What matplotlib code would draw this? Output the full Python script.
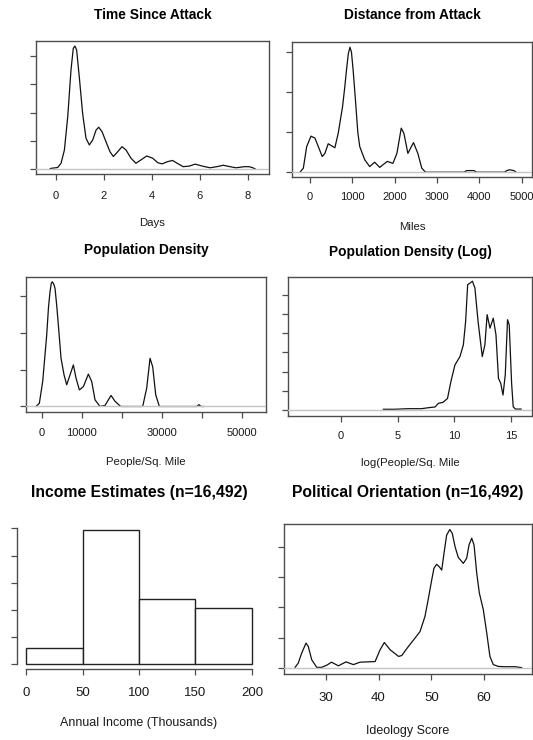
import matplotlib

matplotlib.use("Agg")
import matplotlib.pyplot as plt
import numpy as np

plt.rcParams["font.family"] = ["Liberation Sans", "DejaVu Sans"]

W, H = 533, 740

# densities are in units of one y tick (ticks are unlabelled in the original)
time_days = [-0.25, -0.21, 0.07, 0.21, 0.35, 0.49, 0.625, 0.72, 0.79, 0.86, 0.97, 1.11, 1.25,
             1.39, 1.53, 1.67, 1.78, 1.92, 2.08, 2.25, 2.39, 2.57, 2.75, 2.92, 3.125, 3.33,
             3.54, 3.78, 4.03, 4.24, 4.42, 4.65, 4.86, 5.05, 5.3, 5.55, 5.8, 6.1, 6.42, 6.7,
             6.97, 7.25, 7.5, 7.85, 8.05, 8.2, 8.3]
time_dens = [0.0, 0.02, 0.05, 0.2, 0.67, 1.86, 3.51, 4.28, 4.36, 4.22, 3.27, 1.97, 1.09,
             0.85, 1.03, 1.38, 1.48, 1.32, 0.97, 0.61, 0.44, 0.61, 0.79, 0.67, 0.38, 0.2,
             0.32, 0.46, 0.38, 0.22, 0.18, 0.26, 0.3, 0.2, 0.08, 0.1, 0.17, 0.1, 0.04, 0.08,
             0.13, 0.08, 0.04, 0.08, 0.08, 0.04, 0.0]

dist_miles = [-235, -157, -78, 24, 118, 196, 290, 353, 431, 510, 588, 667, 769, 820, 863, 905,
              945, 980, 1020, 1075, 1130, 1176, 1294, 1412, 1529, 1647, 1827, 1961, 2055, 2157,
              2220, 2314, 2447, 2549, 2643, 2729, 3650, 3700, 3880, 3930, 4600, 4650, 4720,
              4820, 4870]
dist_dens = [0.0, 0.1, 0.64, 0.9, 0.85, 0.64, 0.39, 0.47, 0.71, 0.66, 0.61, 0.97, 1.63, 2.1,
             2.55, 2.95, 3.12, 3.0, 2.55, 1.8, 1.0, 0.64, 0.31, 0.14, 0.25, 0.12, 0.27, 0.22,
             0.47, 1.1, 0.97, 0.47, 0.74, 0.47, 0.1, 0.0, 0.0, 0.04, 0.04, 0.0, 0.0, 0.04,
             0.06, 0.04, 0.0]

pop_x = [-1417, -583, 250, 1250, 1700, 2083, 2400, 2667, 3000, 3333, 3750, 4167, 4833, 5583,
         6250, 7083, 7917, 8583, 9417, 10417, 11667, 12500, 13333, 14583, 15833, 17333, 18333,
         19750, 25250, 26250, 27083, 27750, 28500, 29417, 38800, 39300, 39800, 40500]
pop_dens = [0.0, 0.09, 0.68, 1.94, 2.7, 3.12, 3.35, 3.39, 3.33, 3.21, 2.75, 2.21, 1.31, 0.86,
            0.59, 0.86, 1.13, 0.77, 0.45, 0.54, 0.88, 0.68, 0.18, 0.0, 0.03, 0.3, 0.14, 0.0,
            0.0, 0.5, 1.31, 1.08, 0.32, 0.0, 0.0, 0.05, 0.0, 0.0]

logpop_x = [3.74, 4.24, 4.7, 5.94, 7.1, 7.7, 8.3, 8.6, 9.0, 9.4, 9.7, 10.06, 10.5, 10.8, 11.0,
            11.18, 11.38, 11.6, 11.82, 12.1, 12.47, 12.7, 12.9, 13.15, 13.44, 13.68, 13.9, 14.1,
            14.3, 14.5, 14.7, 14.85, 15.06, 15.2, 15.4, 15.9]
logpop_dens = [0.04, 0.04, 0.04, 0.07, 0.07, 0.12, 0.16, 0.35, 0.4, 0.6, 1.48, 2.35, 2.78, 3.39,
               4.6, 6.52, 6.6, 6.7, 6.35, 4.6, 2.78, 3.39, 4.96, 4.26, 4.78, 3.91, 1.65, 1.39,
               0.78, 1.83, 4.7, 4.43, 1.39, 0.17, 0.05, 0.05]

income_edges = [0, 50, 100, 150, 200]
income_density = [0.0012, 0.0099, 0.0048, 0.0041]

ideo_x = [24.2, 24.8, 25.45, 26.27, 26.7, 27.35, 28.3, 29.24, 30.2, 31.1, 32.4, 33.85, 35.24,
          36.5, 39.35, 40.3, 41.1, 42.2, 43.8, 44.4, 45.67, 46.93, 47.86, 48.8, 49.4, 50.07,
          50.5, 51.0, 51.5, 51.97, 52.4, 52.9, 53.5, 53.97, 54.5, 55.1, 56.06, 56.7, 57.14,
          57.65, 58.09, 58.6, 59.1, 59.85, 60.5, 61.1, 61.74, 62.7, 63.9, 65.9, 67.1]
ideo_dens = [0.02, 0.16, 0.49, 0.82, 0.71, 0.27, 0.02, 0.02, 0.09, 0.19, 0.07, 0.2, 0.11, 0.19,
             0.21, 0.6, 0.84, 0.6, 0.38, 0.41, 0.71, 0.99, 1.2, 1.7, 2.25, 2.9, 3.29, 3.42,
             3.34, 3.23, 3.78, 4.38, 4.57, 4.44, 4.0, 3.65, 3.45, 3.62, 4.06, 4.28, 4.06, 3.13,
             2.47, 1.92, 1.15, 0.38, 0.11, 0.05, 0.04, 0.04, 0.01]

FRAME = "#4d4d4d"
TXT = "#1a1a1a"

fig = plt.figure(figsize=(W / 100, H / 100), dpi=100)


def add_ax(left, top, right, bottom):
    return fig.add_axes([left / W, 1 - bottom / H, (right - left) / W, (bottom - top) / H])


def style(ax, fs, pad):
    for s in ax.spines.values():
        s.set_color(FRAME)
        s.set_linewidth(1.0)
    ax.tick_params(direction="out", length=4.5, width=0.9, color=FRAME,
                   labelsize=fs, labelcolor=TXT, pad=pad)
    ax.tick_params(axis="y", labelleft=False)


def density_panel(box, x, y, xlim, ylim, xticks, xticklabels, nyt, title, xlabel,
                  title_y, xlabel_y, tfs=9.9, fs=8.0, lfs=8.2, pad=7.5):
    ax = add_ax(*box)
    ax.axhline(0, color="#c4c4c4", lw=1.0, zorder=3)
    ax.plot(x, y, color="#111111", lw=0.9, zorder=2, solid_joinstyle="round")
    ax.set_xlim(*xlim)
    ax.set_ylim(*ylim)
    ax.set_xticks(xticks)
    ax.set_xticklabels(xticklabels)
    ax.set_yticks(np.arange(nyt))
    style(ax, fs, pad)
    cx = (box[0] + box[2]) / 2 / W
    fig.text(cx, 1 - title_y / H, title, ha="center", va="center",
             fontsize=tfs, fontweight="bold", color="black")
    fig.text(cx, 1 - xlabel_y / H, xlabel, ha="center", va="center", fontsize=lfs, color=TXT)
    return ax


density_panel((36, 41, 269, 174), time_days, time_dens, (-0.833, 8.875), (-0.18, 4.54),
              [0, 2, 4, 6, 8], ["0", "2", "4", "6", "8"], 5,
              "Time Since Attack", "Days", 15, 223)

density_panel((292, 42, 532, 177), dist_miles, dist_dens, (-425, 5248), (-0.12, 3.25),
              [0, 1000, 2000, 3000, 4000, 5000],
              ["0", "1000", "2000", "3000", "4000", "5000"], 4,
              "Distance from Attack", "Miles", 15, 227, pad=6.5)

density_panel((26, 277, 266, 412), pop_x, pop_dens, (-3925, 56075), (-0.15, 3.52),
              [0, 10000, 20000, 30000, 40000, 50000],
              ["0", "10000", "", "30000", "", "50000"], 4,
              "Population Density", "People/Sq. Mile", 250, 462, pad=7)

density_panel((288, 277, 532, 416), logpop_x, logpop_dens, (-4.68, 16.86), (-0.31, 6.92),
              [0, 5, 10, 15], ["0", "5", "10", "15"], 7,
              "Population Density (Log)", "log(People/Sq. Mile", 252, 463, pad=6.5)

density_panel((284, 524, 532, 674), ideo_x, ideo_dens, (22.1, 69.07), (-0.2, 4.75),
              [30, 40, 50, 60], ["30", "40", "50", "60"], 5,
              "Political Orientation (n=16,492)", "Ideology Score", 492, 731,
              tfs=11.3, fs=9.5, lfs=9.0, pad=8.5)

# income histogram, R hist() style axes without a box
ax = add_ax(17, 524.4, 261, 669.4)
widths = np.diff(income_edges)
ax.bar(income_edges[:-1], income_density, width=widths, align="edge",
       facecolor="white", edgecolor="#222222", linewidth=1.0)
ax.set_xlim(-8, 208)
ax.set_ylim(-0.0004, 0.0103)
ax.set_xticks([0, 50, 100, 150, 200])
ax.set_yticks(np.arange(0, 0.0101, 0.002))
style(ax, 9.5, 8.0)
ax.spines["top"].set_visible(False)
ax.spines["right"].set_visible(False)
ax.spines["left"].set_bounds(0, 0.010)
ax.spines["bottom"].set_bounds(0, 200)
fig.text(139 / W, 1 - 493 / H, "Income Estimates (n=16,492)", ha="center", va="center",
         fontsize=11.3, fontweight="bold", color="black")
fig.text(139 / W, 1 - 723 / H, "Annual Income (Thousands)", ha="center", va="center",
         fontsize=9.0, color=TXT)

fig.savefig("out.png", dpi=100, facecolor="white")
